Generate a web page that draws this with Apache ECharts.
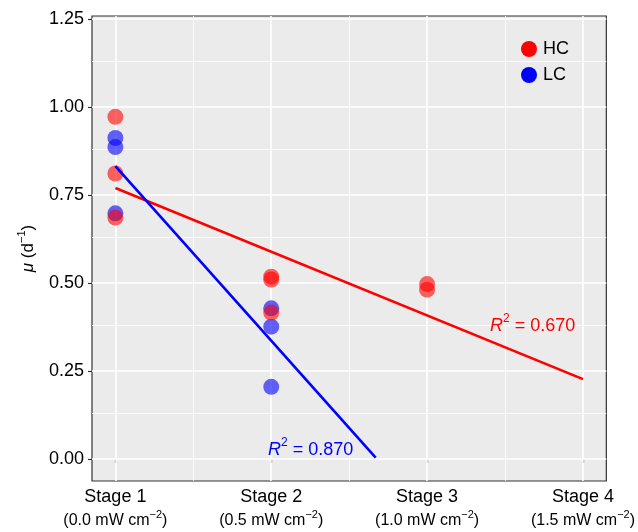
<!DOCTYPE html>
<html>
<head>
<meta charset="utf-8">
<script src="https://cdn.jsdelivr.net/npm/echarts@6/dist/echarts.min.js"></script>
<style>
  html, body { margin: 0; padding: 0; background: #fff; }
  #chart { width: 638px; height: 532px; }
</style>
</head>
<body>
<div id="chart"></div>
<script>
  // stages on the x axis
  var stageTicks = [1, 2, 3, 4];
  var stageNames = ['Stage 1', 'Stage 2', 'Stage 3', 'Stage 4'];
  var intensity = ['0.0', '0.5', '1.0', '1.5'];
  var stageMinor = [1.5, 2.5, 3.5];

  // y ticks
  var muTicks = [0, 0.25, 0.5, 0.75, 1.0, 1.25];
  var muMinor = [0.125, 0.375, 0.625, 0.875, 1.125];

  // HC points
  var hcStage = [1, 1, 1, 2, 2, 2, 3, 3];
  var hcMu = [0.972, 0.811, 0.686, 0.518, 0.510, 0.416, 0.497, 0.481];

  // LC points
  var lcStage = [1, 1, 1, 2, 2, 2];
  var lcMu = [0.912, 0.886, 0.698, 0.428, 0.376, 0.205];

  // fitted lines (end points)
  var hcFitStage = [1, 4];
  var hcFitMu = [0.770, 0.227];
  var lcFitStage = [1, 2.67];
  var lcFitMu = [0.832, 0.004];

  var FONT = 'Liberation Sans';

  function pairs(xs, ys) {
    return xs.map(function (x, i) { return [x, ys[i]]; });
  }

  var gridLines = [];
  stageTicks.forEach(function (v) { gridLines.push({ xAxis: v, lineStyle: { width: 1.6 } }); });
  stageMinor.forEach(function (v) { gridLines.push({ xAxis: v, lineStyle: { width: 0.8 } }); });
  muTicks.forEach(function (v) { gridLines.push({ yAxis: v, lineStyle: { width: 1.6 } }); });
  muMinor.forEach(function (v) { gridLines.push({ yAxis: v, lineStyle: { width: 0.8 } }); });

  function r2Rich(col) {
    return {
      i: { fontFamily: FONT, fontSize: 18, fontStyle: 'italic', fill: col, lineHeight: 26 },
      n: { fontFamily: FONT, fontSize: 18, fill: col, lineHeight: 26 },
      s: { fontFamily: FONT, fontSize: 12, fill: col, verticalAlign: 'top', lineHeight: 10 }
    };
  }

  var option = {
    animation: false,
    backgroundColor: '#fff',
    textStyle: { fontFamily: FONT },
    grid: {
      left: 92, right: 30, top: 16, bottom: 51,
      show: true,
      backgroundColor: '#EBEBEB',
      borderColor: '#333',
      borderWidth: 1.2
    },
    legend: {
      orient: 'vertical',
      left: 516, top: 35,
      itemWidth: 16, itemHeight: 16, itemGap: 8,
      icon: 'circle',
      textStyle: { fontFamily: FONT, fontSize: 18, color: '#000', padding: [0, 0, 0, 1] },
      data: [
        { name: 'HC', itemStyle: { color: '#FF0000', opacity: 1 } },
        { name: 'LC', itemStyle: { color: '#0000FF', opacity: 1 } }
      ]
    },
    xAxis: {
      type: 'value',
      min: 0.85, max: 4.15,
      axisLine: { show: false },
      splitLine: { show: false },
      axisTick: { show: true, length: 4, customValues: stageTicks, lineStyle: { color: '#333', width: 1.2 } },
      axisLabel: {
        customValues: stageTicks,
        margin: 5,
        formatter: function (v) {
          var i = stageTicks.indexOf(v);
          return '{a|' + stageNames[i] + '}\n{b|(' + intensity[i] + ' mW cm}{s|\u22122}{b|)}';
        },
        rich: {
          a: { fontFamily: FONT, fontSize: 18, color: '#000', lineHeight: 23 },
          b: { fontFamily: FONT, fontSize: 16, color: '#000', lineHeight: 24 },
          s: { fontFamily: FONT, fontSize: 11, color: '#000', verticalAlign: 'top', lineHeight: 10 }
        }
      }
    },
    yAxis: {
      type: 'value',
      min: -0.0625, max: 1.2585,
      name: '{i|\u03bc}{n| (d}{s|\u22121}{n|)}',
      nameLocation: 'middle',
      nameRotate: 90,
      nameGap: 52,
      nameTextStyle: {
        rich: {
          i: { fontFamily: FONT, fontSize: 17, fontStyle: 'italic', color: '#000', lineHeight: 24 },
          n: { fontFamily: FONT, fontSize: 17, color: '#000', lineHeight: 24 },
          s: { fontFamily: FONT, fontSize: 11, color: '#000', verticalAlign: 'top', lineHeight: 10 }
        }
      },
      axisLine: { show: false },
      splitLine: { show: false },
      axisTick: { show: true, length: 4, customValues: muTicks, lineStyle: { color: '#333', width: 1.2 } },
      axisLabel: {
        customValues: muTicks,
        margin: 8,
        fontFamily: FONT, fontSize: 18, color: '#000',
        formatter: function (v) { return v.toFixed(2); }
      }
    },
    graphic: [
      {
        type: 'text', left: 268, top: 437, z: 20, silent: true,
        style: { text: '{i|R}{s|2}{n| = 0.870}', rich: r2Rich('#0000FF') }
      },
      {
        type: 'text', left: 490, top: 313, z: 20, silent: true,
        style: { text: '{i|R}{s|2}{n| = 0.670}', rich: r2Rich('#FF0000') }
      }
    ],
    series: [
      {
        name: 'grid',
        type: 'line',
        data: [],
        z: 1,
        silent: true,
        markLine: {
          z: 1,
          silent: true,
          symbol: 'none',
          label: { show: false },
          lineStyle: { color: '#FFFFFF', type: 'solid' },
          data: gridLines
        }
      },
      {
        name: 'LC',
        type: 'scatter',
        symbolSize: 16,
        z: 6,
        itemStyle: { color: '#0000FF', opacity: 0.6 },
        data: pairs(lcStage, lcMu)
      },
      {
        name: 'HC',
        type: 'scatter',
        symbolSize: 16,
        z: 6,
        itemStyle: { color: '#FF0000', opacity: 0.6 },
        data: pairs(hcStage, hcMu)
      },
      {
        name: 'HC fit',
        type: 'line',
        z: 7,
        symbol: 'none',
        lineStyle: { color: '#FF0000', width: 2.6 },
        data: pairs(hcFitStage, hcFitMu)
      },
      {
        name: 'LC fit',
        type: 'line',
        z: 7,
        symbol: 'none',
        lineStyle: { color: '#0000FF', width: 2.6 },
        data: pairs(lcFitStage, lcFitMu)
      }
    ]
  };

  var myChart = echarts.init(document.getElementById('chart'));
  myChart.setOption(option);
</script>
</body>
</html>
